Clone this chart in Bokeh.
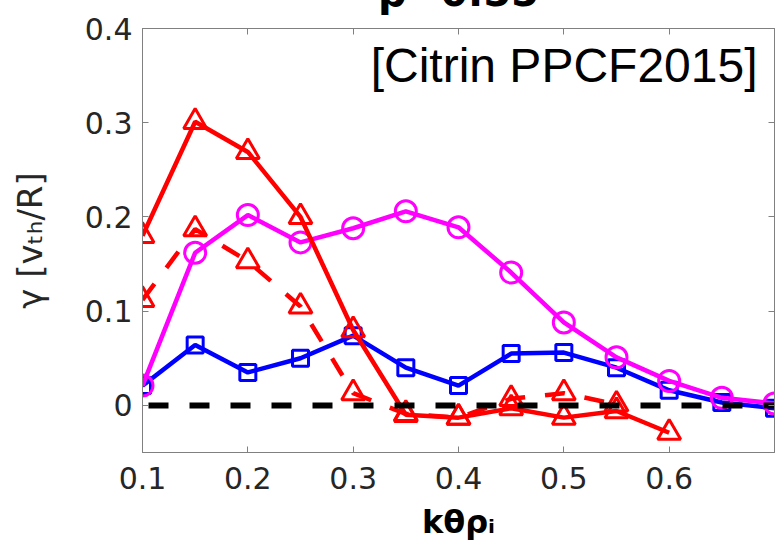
import numpy as np
from bokeh.plotting import figure
from bokeh.models import Range1d, FixedTicker, LinearAxis, Label
from bokeh.embed import file_html
from bokeh.resources import INLINE

# ---------------- data ----------------
k_all = [0.1, 0.15, 0.2, 0.25, 0.3, 0.35, 0.4, 0.45, 0.5, 0.55, 0.6, 0.65, 0.7]
gamma_magenta = [0.021, 0.162, 0.202, 0.173, 0.188, 0.206, 0.189, 0.141, 0.088,
                 0.051, 0.026, 0.008, 0.002]
gamma_blue = [0.021, 0.064, 0.035, 0.050, 0.074, 0.040, 0.021, 0.055, 0.056,
              0.040, 0.016, 0.003, -0.003]
k_red = [0.1, 0.15, 0.2, 0.25, 0.3, 0.35, 0.4, 0.45, 0.5, 0.55, 0.6]
gamma_red_solid = [0.18, 0.301, 0.269, 0.200, 0.080, -0.010, -0.013, -0.003,
                   -0.013, -0.006, -0.029]
k_red_dash = [0.1, 0.15, 0.2, 0.25, 0.3, 0.35, 0.4, 0.45, 0.5, 0.55]
gamma_red_dash = [0.112, 0.187, 0.153, 0.105, 0.013, -0.009, -0.013, 0.007,
                  0.013, 0.001]
zero_k = [0.1, 0.7]
zero_g = [0.0, 0.0]
x_ticks = [0.1, 0.2, 0.3, 0.4, 0.5, 0.6]
y_ticks = [0.0, 0.1, 0.2, 0.3, 0.4]

X0, X1, Y0, Y1 = 0.1, 0.7, -0.05, 0.4
W, H = 777, 554
BL, BR, BT, BB = 142, 3, 28, 102

def sx2x(sx):
    return X0 + (sx - BL) * (X1 - X0) / (W - BL - BR)

def sy2y(sy):
    return Y1 - (sy - BT) * (Y1 - Y0) / (H - BT - BB)

GRAY = "#808080"
TXT = "#262626"

p = figure(width=W, height=H, x_range=Range1d(X0, X1), y_range=Range1d(Y0, Y1),
           output_backend="svg", toolbar_location=None,
           min_border_left=BL, min_border_right=BR, min_border_top=BT,
           min_border_bottom=BB, background_fill_color="white",
           border_fill_color="white")
p.grid.visible = False
p.outline_line_color = GRAY
p.outline_line_width = 1

# title, mostly cut off above the page (as in the reference)
p.title.text = "ρ=0.55"
p.title.text_font = "DejaVu Sans"
p.title.text_font_style = "bold"
p.title.text_font_size = "40px"
p.title.text_color = "black"
p.title.align = "center"
p.title.vertical_align = "top"
p.title.standoff = -120

for ax in [p.xaxis[0], p.yaxis[0]]:
    ax.axis_line_color = GRAY
    ax.major_tick_line_color = GRAY
    ax.major_tick_in = 6
    ax.major_tick_out = 0
    ax.minor_tick_line_color = None
    ax.major_label_text_font = "DejaVu Sans"
    ax.major_label_text_font_size = "30px"
    ax.major_label_text_color = TXT
    ax.axis_label_text_font = "DejaVu Sans"

p.xaxis[0].ticker = FixedTicker(ticks=x_ticks)
p.yaxis[0].ticker = FixedTicker(ticks=y_ticks)
p.yaxis[0].major_label_overrides = {0: "0"}
p.xaxis[0].major_label_standoff = 14
p.yaxis[0].major_label_standoff = 10

p.xaxis[0].axis_label = "kθρᵢ"
p.xaxis[0].axis_label_text_font_style = "bold"
p.xaxis[0].axis_label_text_font_size = "32px"
p.xaxis[0].axis_label_text_color = "black"
p.xaxis[0].axis_label_standoff = 11

p.yaxis[0].axis_label = "γ [vₜₕ/R]"
p.yaxis[0].axis_label_text_font_style = "normal"
p.yaxis[0].axis_label_text_font_size = "34px"
p.yaxis[0].axis_label_text_color = TXT
p.yaxis[0].axis_label_standoff = 32

top_ax = LinearAxis(ticker=FixedTicker(ticks=x_ticks))
top_ax.major_label_overrides = {t: "" for t in x_ticks}
right_ax = LinearAxis(ticker=FixedTicker(ticks=y_ticks))
right_ax.major_label_overrides = {t: "" for t in y_ticks}
for ax in [top_ax, right_ax]:
    ax.axis_line_color = GRAY
    ax.major_tick_line_color = GRAY
    ax.major_tick_in = 6
    ax.major_tick_out = 0
    ax.minor_tick_line_color = None
    ax.major_label_text_font_size = "8px"
    ax.major_label_standoff = 0
p.add_layout(top_ax, "above")
p.add_layout(right_ax, "right")

LW = 4.5
# blue squares
p.line(k_all, gamma_blue, line_color="#0000ff", line_width=LW)
p.scatter(k_all, gamma_blue, marker="square", size=16, fill_color=None,
          line_color="#0000ff", line_width=3)
# magenta circles
p.line(k_all, gamma_magenta, line_color="#ff00ff", line_width=LW)
p.scatter(k_all, gamma_magenta, marker="circle", size=21, fill_color=None,
          line_color="#ff00ff", line_width=3)
# red dashed triangles
p.line(k_red_dash, gamma_red_dash, line_color="#ff0000", line_width=LW,
       line_dash="20 20")
p.scatter(k_red_dash, gamma_red_dash, marker="triangle", size=23, fill_color=None,
          line_color="#ff0000", line_width=3)
# red solid triangles
p.line(k_red, gamma_red_solid, line_color="#ff0000", line_width=LW)
p.scatter(k_red, gamma_red_solid, marker="triangle", size=23, fill_color=None,
          line_color="#ff0000", line_width=3)
# zero line
p.line(zero_k, zero_g, line_color="black", line_width=6, line_dash="20 21",
       line_dash_offset=-6)

# annotation text (inside frame)
p.add_layout(Label(x=sx2x(757), y=sy2y(65), text="[Citrin PPCF2015]",
                   text_align="right", text_baseline="alphabetic",
                   text_font="Liberation Sans", text_font_size="48px",
                   text_color="black"))

open("out.html", "w").write(file_html(p, INLINE))
